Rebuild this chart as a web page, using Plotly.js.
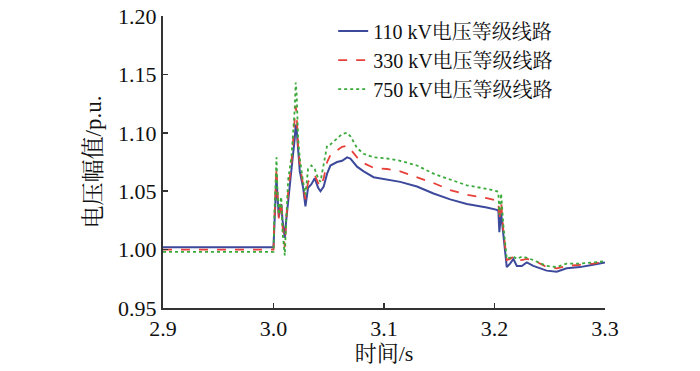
<!DOCTYPE html>
<html>
<head>
<meta charset="utf-8">
<script src="https://cdn.plot.ly/plotly-3.0.1.min.js"></script>
<style>html,body{margin:0;padding:0;background:#fff;}#chart{width:700px;height:371px;}</style>
</head>
<body>
<div id="chart"></div>
<script>
var seriesNames = ["110 kV电压等级线路", "330 kV电压等级线路", "750 kV电压等级线路"];
var time = [2.900, 3.000, 3.0008, 3.0018, 3.0027, 3.0036, 3.0049, 3.0060, 3.0070, 3.0082, 3.0093, 3.0102, 3.0115, 3.0133, 3.0163, 3.0192, 3.0201, 3.0210, 3.0223, 3.0238, 3.0268, 3.0289, 3.0313, 3.0343, 3.0373, 3.0404, 3.0425, 3.0454, 3.0485, 3.0515, 3.0575, 3.0621, 3.0666, 3.0696, 3.0756, 3.0816, 3.0906, 3.1027, 3.1147, 3.1298, 3.1448, 3.1599, 3.1750, 3.1930, 3.2021, 3.2035, 3.2044, 3.2060, 3.2081, 3.2111, 3.2141, 3.2171, 3.2202, 3.2247, 3.2292, 3.2351, 3.2472, 3.2563, 3.2653, 3.2773, 3.2893, 3.3000];
var v110 = [1.002, 1.002, 1.020, 1.045, 1.063, 1.045, 1.028, 1.035, 1.039, 1.025, 1.016, 1.010, 1.025, 1.044, 1.069, 1.095, 1.107, 1.102, 1.081, 1.067, 1.053, 1.037, 1.053, 1.056, 1.061, 1.053, 1.050, 1.054, 1.065, 1.072, 1.075, 1.076, 1.079, 1.078, 1.071, 1.067, 1.062, 1.060, 1.058, 1.054, 1.048, 1.043, 1.039, 1.036, 1.034, 1.033, 1.015, 1.031, 1.010, 0.985, 0.988, 0.992, 0.986, 0.986, 0.989, 0.986, 0.982, 0.981, 0.984, 0.985, 0.987, 0.989];
var v330 = [1.000, 1.000, 1.025, 1.050, 1.070, 1.048, 1.025, 1.035, 1.042, 1.020, 1.008, 1.002, 1.025, 1.050, 1.075, 1.108, 1.123, 1.115, 1.088, 1.073, 1.056, 1.043, 1.058, 1.061, 1.064, 1.057, 1.054, 1.061, 1.075, 1.081, 1.085, 1.088, 1.089, 1.086, 1.079, 1.074, 1.070, 1.069, 1.067, 1.062, 1.057, 1.051, 1.047, 1.044, 1.042, 1.041, 1.025, 1.041, 1.015, 0.991, 0.992, 0.994, 0.991, 0.991, 0.992, 0.991, 0.985, 0.984, 0.986, 0.987, 0.988, 0.990];
var v750 = [0.998, 0.998, 1.030, 1.060, 1.079, 1.050, 1.030, 1.040, 1.045, 1.015, 1.000, 0.995, 1.025, 1.060, 1.080, 1.120, 1.143, 1.132, 1.095, 1.078, 1.058, 1.047, 1.069, 1.072, 1.069, 1.061, 1.058, 1.072, 1.089, 1.090, 1.095, 1.099, 1.100, 1.097, 1.087, 1.082, 1.079, 1.078, 1.076, 1.072, 1.065, 1.060, 1.055, 1.052, 1.050, 1.049, 1.030, 1.048, 1.020, 0.992, 0.993, 0.994, 0.992, 0.994, 0.993, 0.991, 0.986, 0.985, 0.988, 0.988, 0.989, 0.990];
var xTicks = [2.9, 3.0, 3.1, 3.2, 3.3];
var yTicks = [0.95, 1.00, 1.05, 1.10, 1.15, 1.20];

var fontFam = "'Liberation Serif', 'Times New Roman', 'Noto Serif CJK SC', 'Noto Sans CJK SC', serif";
var traces = [
  {x: time, y: v110, name: seriesNames[0], mode: 'lines', line: {color: '#3d4a9c', width: 2, dash: 'solid'}},
  {x: time, y: v330, name: seriesNames[1], mode: 'lines', line: {color: '#e8403a', width: 1.8, dash: 'dash'}},
  {x: time, y: v750, name: seriesNames[2], mode: 'lines', line: {color: '#3aaa3a', width: 1.8, dash: 'dot'}}
];
var layout = {
  width: 700, height: 371,
  margin: {l: 163, r: 95, t: 12, b: 63},
  paper_bgcolor: '#fff', plot_bgcolor: '#fff',
  font: {family: fontFam, size: 22, color: '#111'},
  showlegend: true,
  legend: {x: 0.385, y: 1.015, xanchor: 'left', yanchor: 'top', bgcolor: 'rgba(0,0,0,0)', font: {family: fontFam, size: 20, color: '#111'}, tracegroupgap: 0},
  xaxis: {
    range: [2.9, 3.3], tickvals: xTicks, ticktext: xTicks.map(function(v){return v.toFixed(1);}),
    ticks: 'inside', ticklen: 5, tickwidth: 1.5, tickcolor: '#333', ticklabeloverflow: 'allow',
    showline: true, linecolor: '#333', linewidth: 2, showgrid: false, zeroline: false,
    title: {text: '时间/s', font: {family: fontFam, size: 22}, standoff: 2}
  },
  yaxis: {
    range: [0.95, 1.20], tickvals: yTicks, ticktext: yTicks.map(function(v){return v.toFixed(2);}),
    ticks: 'inside', ticklen: 5, tickwidth: 1.5, tickcolor: '#333', ticklabeloverflow: 'allow',
    showline: true, linecolor: '#333', linewidth: 2, showgrid: false, zeroline: false,
    title: {text: '电压幅值/p.u.', font: {family: fontFam, size: 23}, standoff: 10}
  }
};
Plotly.newPlot('chart', traces, layout, {displayModeBar: false, staticPlot: true});
</script>
</body>
</html>
